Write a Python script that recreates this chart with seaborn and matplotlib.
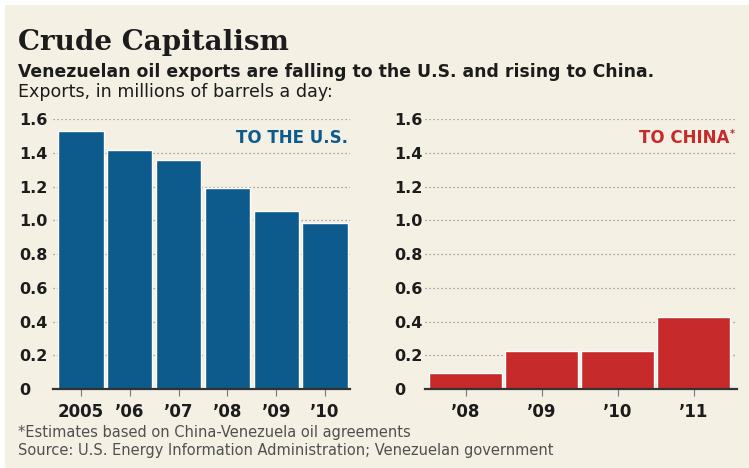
import matplotlib
matplotlib.use("Agg")
import matplotlib.pyplot as plt
from matplotlib.patches import Rectangle
import seaborn as sns
import pandas as pd

# ---- data ----
us_years = ["2005", "\u201906", "\u201907", "\u201908", "\u201909", "\u201910"]
us_values = [1.53, 1.415, 1.355, 1.19, 1.055, 0.985]
cn_years = ["\u201908", "\u201909", "\u201910", "\u201911"]
cn_values = [0.093, 0.227, 0.227, 0.425]
y_ticks = [0, 0.2, 0.4, 0.6, 0.8, 1.0, 1.2, 1.4, 1.6]
y_labels = ["0", "0.2", "0.4", "0.6", "0.8", "1.0", "1.2", "1.4", "1.6"]

title = "Crude Capitalism"
subtitle = "Venezuelan oil exports are falling to the U.S. and rising to China."
unit_line = "Exports, in millions of barrels a day:"
note = "*Estimates based on China-Venezuela oil agreements"
source = "Source: U.S. Energy Information Administration; Venezuelan government"

BG = "#f4f0e4"
BLUE = "#0d5a8d"
RED = "#c72a2a"
DARK = "#1c1c1c"

sns.set_theme(style="white")
plt.rcParams["font.family"] = ["DejaVu Sans"]

W, H = 749, 468
fig = plt.figure(figsize=(W / 100, H / 100), dpi=100)
fig.patch.set_facecolor("white")
fig.patches.append(Rectangle((5 / W, 0), 1 - 5 / W, 1 - 5 / H,
                             transform=fig.transFigure, facecolor=BG,
                             edgecolor="none", zorder=-10))

def px(x0, x1, ytop, ybot):
    return [x0 / W, 1 - ybot / H, (x1 - x0) / W, (ybot - ytop) / H]

ax1 = fig.add_axes(px(53, 350, 119, 389))
ax2 = fig.add_axes(px(425, 737, 119, 389))

df_us = pd.DataFrame({"year": us_years, "value": us_values})
df_cn = pd.DataFrame({"year": cn_years, "value": cn_values})

sns.barplot(data=df_us, x="year", y="value", order=us_years, color=BLUE,
            saturation=1, width=0.93, ax=ax1, zorder=3)
sns.barplot(data=df_cn, x="year", y="value", order=cn_years, color=RED,
            saturation=1, width=0.96, ax=ax2, zorder=3)

ax1.set_xlim(-0.57, 5.51)
ax2.set_xlim(-0.533, 3.57)

for ax, pad in ((ax1, 24), (ax2, 22)):
    ax.set_facecolor("none")
    ax.set_ylim(0, 1.6)
    ax.set_yticks(y_ticks)
    ax.set_yticklabels(y_labels)
    ax.set_xlabel("")
    ax.set_ylabel("")
    for s in ("top", "right", "left"):
        ax.spines[s].set_visible(False)
    ax.spines["bottom"].set_color("#333333")
    ax.spines["bottom"].set_linewidth(1.6)
    ax.spines["bottom"].set_zorder(4)
    ax.yaxis.grid(True, linestyle=(0, (1, 2.2)), color="#8a8a8a", linewidth=0.9)
    ax.xaxis.grid(False)
    ax.set_axisbelow(True)
    ax.tick_params(axis="y", length=0, pad=pad, labelsize=11.5, labelcolor=DARK)
    ax.tick_params(axis="x", length=5, width=0.8, color="#777777", direction="out",
                   pad=5, labelsize=12, labelcolor=DARK, bottom=True)
    for lab in ax.get_yticklabels():
        lab.set_horizontalalignment("left")
        lab.set_fontweight("bold")
    for lab in ax.get_xticklabels():
        lab.set_fontweight("bold")

ax1.text(0.993, 1.485, "TO THE U.S.", transform=ax1.get_yaxis_transform(),
         ha="right", va="center", color=BLUE, fontsize=12, fontweight="bold")
ax2.text(0.975, 1.485, "TO CHINA", transform=ax2.get_yaxis_transform(),
         ha="right", va="center", color=RED, fontsize=12, fontweight="bold")
ax2.text(0.977, 1.51, "*", transform=ax2.get_yaxis_transform(),
         ha="left", va="center", color=RED, fontsize=7, fontweight="bold")

fig.text(18 / W, 1 - 42 / H, title, ha="left", va="center", fontsize=20,
         fontweight="bold", family="DejaVu Serif", color=DARK)
fig.text(18 / W, 1 - 72 / H, subtitle, ha="left", va="center", fontsize=12.4,
         fontweight="bold", color=DARK)
fig.text(18 / W, 1 - 92 / H, unit_line, ha="left", va="center", fontsize=12.6,
         color=DARK)
fig.text(18 / W, 1 - 432 / H, note, ha="left", va="center", fontsize=10.5,
         color="#505050")
fig.text(18 / W, 1 - 450 / H, source, ha="left", va="center", fontsize=10.5,
         color="#505050")

fig.savefig("out.png", dpi=100, facecolor=fig.get_facecolor())
